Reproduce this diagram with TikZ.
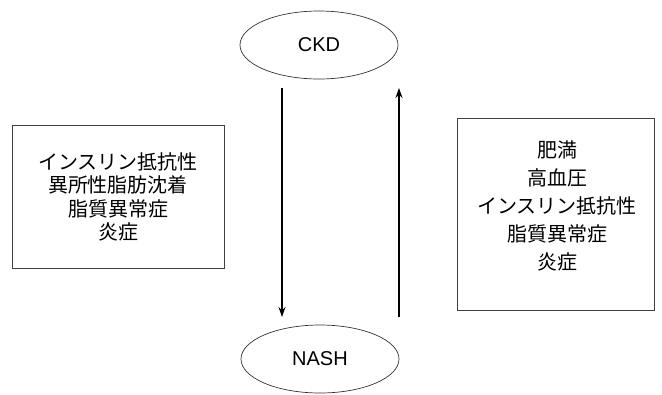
\documentclass[tikz,border=0pt]{standalone}
\usepackage{fontspec}
\setmainfont{Liberation Sans}
\newfontfamily\jp{Noto Sans CJK JP}
\usetikzlibrary{arrows.meta,shapes.geometric}
\tikzset{
  oval/.style={draw=black!80, ellipse, line width=0.7pt, minimum width=158pt, minimum height=68pt, inner sep=0pt, font=\fontsize{20}{24}\selectfont},
  factorbox/.style={draw=black!75, line width=0.8pt, inner sep=0pt},
  factortext/.style={align=center, inner sep=0pt, font=\jp\fontsize{20}{23.5}\selectfont},
  link/.style={line width=1.2pt, -{Stealth[length=10pt,width=7pt]}}
}
\begin{document}
\begin{tikzpicture}[x=1pt,y=-1pt]
\useasboundingbox (0,0) rectangle (662,394);
\node[oval] (ckd) at (319,45) {CKD};
\node[oval] (nash) at (320,359) {NASH};
\coordinate (a1) at (282,88);
\coordinate (a2) at (282,317);
\coordinate (b1) at (399,317);
\coordinate (b2) at (399,88);
\draw[link] (a1) -- (a2);
\draw[link] (b1) -- (b2);
\node[factorbox, minimum width=212pt, minimum height=143pt] (left) at (118,197) {};
\node[factortext] (lefttext) at (left.center) {インスリン抵抗性\\異所性脂肪沈着\\脂質異常症\\炎症};
\node[factorbox, minimum width=197pt, minimum height=192pt] (right) at (555.5,214) {};
\node[factortext, font=\jp\fontsize{20}{28}\selectfont] (righttext) at (557,206) {肥満\\高血圧\\インスリン抵抗性\\脂質異常症\\炎症};
\end{tikzpicture}
\end{document}
